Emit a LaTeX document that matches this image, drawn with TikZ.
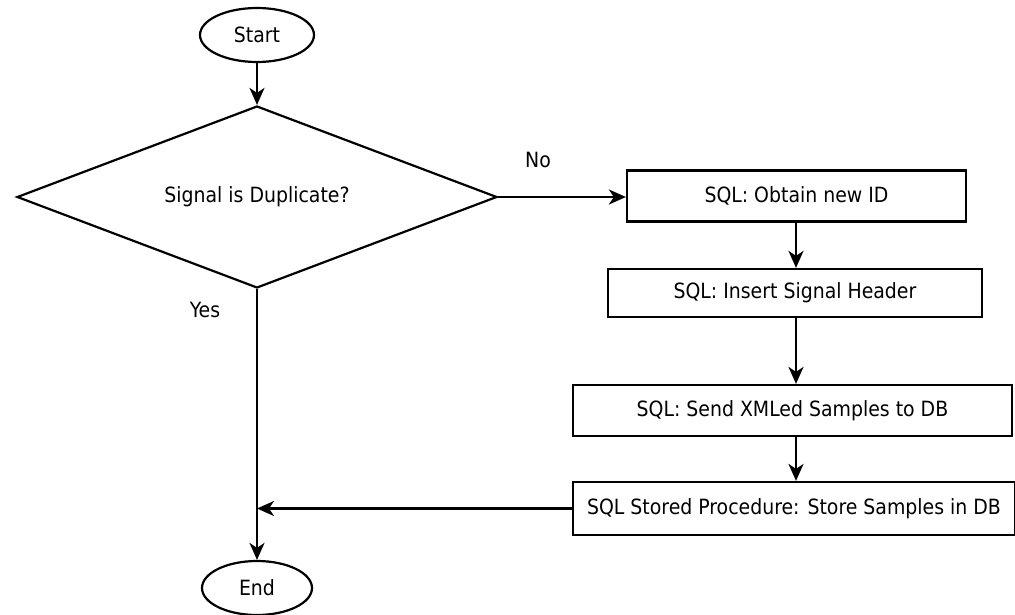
\documentclass[tikz,border=0pt]{standalone}
\usepackage{fontspec}
\setmainfont{DejaVu Sans Condensed}
\usetikzlibrary{shapes.geometric,arrows.meta}
\begin{document}
\begin{tikzpicture}[x=1pt,y=-1pt,
  font=\fontsize{21}{24}\selectfont,
  line width=2.2pt,
  terminal/.style={draw,ellipse,inner sep=0pt,minimum width=114pt,minimum height=54pt},
  decision/.style={draw,diamond,aspect=2.64,inner sep=0pt,minimum width=480pt,minimum height=182pt},
  process/.style={draw,rectangle,inner sep=0pt,minimum height=51pt},
  flow/.style={-{Stealth[length=17pt,width=15pt,inset=5pt]}},
  lbl/.style={inner sep=0pt}]
  \useasboundingbox (0,0) rectangle (1015,615);

  \node[terminal] (start) at (257,35) {Start};
  \node[decision] (dup) at (257,197) {Signal is Duplicate?};
  \node[process,minimum width=339pt] (newid) at (796.5,196) {SQL: Obtain new ID};
  \node[process,minimum width=374pt,minimum height=48pt] (header) at (795,293) {SQL: Insert Signal Header};
  \node[process,minimum width=439pt] (send) at (792.5,410.5) {SQL: Send XMLed Samples to DB};
  \node[process,minimum width=442pt,minimum height=53pt] (store) at (794,508.5) {SQL Stored Procedure: Store Samples in DB};
  \node[terminal,minimum width=110pt] (end) at (257,588) {End};

  \node[lbl] (no) at (538,160) {No};
  \node[lbl] (yes) at (205,310) {Yes};

  \coordinate (join) at (dup.south |- store.west);

  \draw[flow] (start) -- (dup);
  \draw[flow] (dup.east) -- (dup.east -| newid.west);
  \draw[flow] (newid.south -| 796,0) -- (header.north -| 796,0);
  \draw[flow] (header.south -| 796,0) -- (send.north -| 796,0);
  \draw[flow] (send.south -| 796,0) -- (store.north -| 796,0);
  \draw[flow] (store.west) -- (join);
  \draw[flow] (dup.south) -- (end.north);
\end{tikzpicture}
\end{document}
